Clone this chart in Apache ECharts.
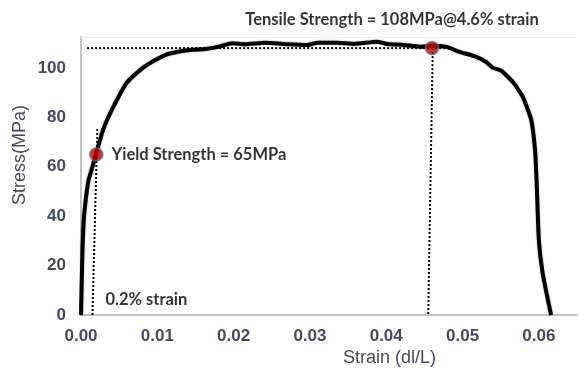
<!DOCTYPE html>
<html>
<head>
<meta charset="utf-8">
<script src="https://cdn.jsdelivr.net/npm/echarts@6/dist/echarts.min.js"></script>
<style>
  html, body { margin: 0; padding: 0; background: #fff; }
  #chart { width: 580px; height: 374px; }
</style>
</head>
<body>
<div id="chart"></div>
<script>
// Engineering stress-strain curve of a tensile test
const strain = [0, 0.0001, 0.0002, 0.0004, 0.00095, 0.0015, 0.002, 0.0029, 0.0042, 0.006,
  0.0081, 0.0094, 0.0111, 0.0129, 0.0146, 0.0163, 0.0181, 0.0198, 0.0215, 0.0241,
  0.0271, 0.0297, 0.031, 0.0336, 0.0358, 0.0388, 0.0401, 0.0423, 0.0444, 0.046,
  0.0479, 0.0496, 0.0518, 0.0531, 0.054, 0.0551, 0.0566, 0.0579, 0.059, 0.0595,
  0.0597, 0.06, 0.0605, 0.0616];
const stress = [0, 14, 27, 40, 54, 60, 65.5, 75, 84, 94,
  100, 102.6, 105.3, 106.6, 107.3, 107.6, 108.6, 110, 109.6, 110.2,
  109.6, 109.3, 110.2, 110.2, 109.7, 110.6, 109.7, 109.3, 108.6, 109,
  108.5, 106.5, 104.5, 102.4, 100, 98.8, 94.3, 88.3, 79, 66.8,
  54.7, 30.4, 16.9, 0];

// Key points
const yieldPoint = [0.002, 65];
const tensilePoint = [0.046, 108];

// Construction lines (0.2% offset line, tensile strength guides)
const offsetLine = [[0.0015, 0], [0.00215, 76]];
const tensileHLine = [[0.0008, 108], [0.0487, 108]];
const tensileVLine = [[0.0461, 108], [0.0455, 0]];

// Axis ticks
const xTicks = [0, 0.01, 0.02, 0.03, 0.04, 0.05, 0.06];
const yTicks = [0, 20, 40, 60, 80, 100];

const yieldText = 'Yield Strength = 65MPa';
const tensileText = 'Tensile Strength = 108MPa@4.6% strain';
const offsetText = '0.2% strain';

const curveData = strain.map((s, i) => [s, stress[i]]);

const tickColor = '#414a66';
const annoFont = { fontFamily: 'Lato', fontWeight: 'bold', fontSize: 16.5, color: '#000' };

const dotted = { color: '#000', width: 2, type: [2, 2] };

const chart = echarts.init(document.getElementById('chart'), null, { renderer: 'canvas' });
chart.setOption({
  animation: false,
  backgroundColor: '#fff',
  grid: { left: 81, right: 0, top: 37, bottom: 59 },
  xAxis: [{
    type: 'value',
    min: 0, max: 0.065, interval: 0.01,
    axisLine: { show: true, lineStyle: { color: '#c4c4c4', width: 2 } },
    axisTick: { show: false },
    splitLine: { show: false },
    axisLabel: {
      color: tickColor, fontFamily: 'Liberation Sans', fontWeight: 'bold', fontSize: 17, margin: 13,
      formatter: v => xTicks.some(t => Math.abs(t - v) < 1e-9) ? v.toFixed(2) : ''
    }
  }, {
    type: 'value', position: 'top',
    min: 0, max: 0.065,
    axisLine: { show: true, lineStyle: { color: '#eeeeee', width: 1 } },
    axisTick: { show: false }, axisLabel: { show: false }, splitLine: { show: false }
  }],
  yAxis: {
    type: 'value',
    min: 0, max: 112.5, interval: 20,
    axisLine: { show: true, lineStyle: { color: '#c4c4c4', width: 2 } },
    axisTick: { show: false },
    splitLine: { show: false },
    axisLabel: {
      color: tickColor, fontFamily: 'Liberation Sans', fontWeight: 'bold', fontSize: 17, margin: 15,
      formatter: v => yTicks.includes(v) ? String(v) : ''
    }
  },
  graphic: [
    { type: 'text', left: 343, top: 349,
      style: { text: 'Strain (dl/L)', font: '18px "Liberation Sans"', fill: tickColor } },
    { type: 'text', x: 11, y: 205, rotation: Math.PI / 2,
      style: { text: 'Stress(MPa)', font: '18px "Liberation Sans"', fill: tickColor } }
  ],
  series: [
    { type: 'line', data: offsetLine, showSymbol: false, lineStyle: dotted, z: 2, silent: true },
    { type: 'line', data: tensileHLine, showSymbol: false, lineStyle: dotted, z: 2, silent: true },
    { type: 'line', data: tensileVLine, showSymbol: false, lineStyle: dotted, z: 2, silent: true },
    {
      type: 'line', data: curveData, showSymbol: false, smooth: 0.15, z: 3,
      lineStyle: { color: '#000', width: 4, shadowColor: 'rgba(0,0,0,0.35)', shadowBlur: 2 }
    },
    {
      type: 'scatter', data: [offsetLine[0]], symbolSize: 0, z: 4,
      label: { show: true, position: 'right', distance: 13, offset: [0, -15],
        formatter: offsetText, ...annoFont }
    },
    {
      type: 'scatter', z: 5, symbolSize: 13,
      itemStyle: { color: '#c00000', borderColor: '#5a74a4', borderWidth: 1.5 },
      data: [
        { value: yieldPoint,
          label: { show: true, position: 'right', distance: 8, formatter: yieldText, ...annoFont } },
        { value: tensilePoint,
          label: { show: true, position: 'top', distance: 13, offset: [-40, 0],
            formatter: tensileText, ...annoFont } }
      ]
    }
  ]
});
</script>
</body>
</html>
